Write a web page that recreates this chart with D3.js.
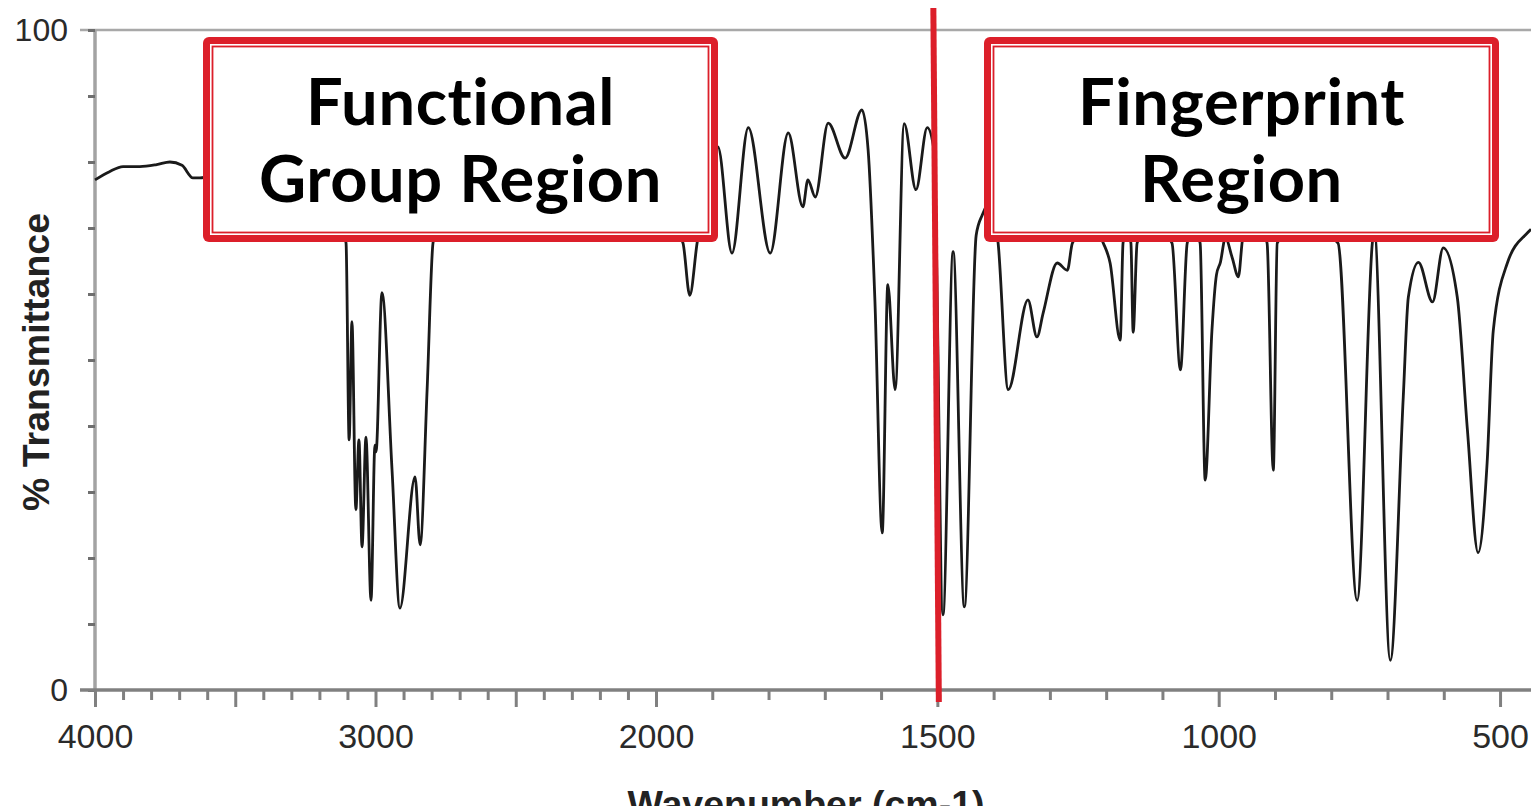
<!DOCTYPE html>
<html>
<head>
<meta charset="utf-8">
<script src="https://cdn.jsdelivr.net/npm/d3@7"></script>
<style>
  html, body { margin: 0; padding: 0; background: #fff; overflow: hidden; }
  svg { display: block; }
  .region-label { font-variant-ligatures: none; font-feature-settings: "liga" 0, "clig" 0; }
</style>
</head>
<body>
<svg id="chart" width="1531" height="806"></svg>
<script>
// IR spectrum: wavenumber (cm-1) and % transmittance, high to low wavenumber
const wavenumbers = [
  4000, 3950, 3900, 3840, 3780, 3733, 3690, 3651, 3626,
  3550, 3450, 3350, 3250, 3170, 3120,
  3105, 3094, 3084, 3070, 3059, 3048, 3034, 3016, 3002, 2998, 2977, 2941, 2913, 2859, 2841, 2816, 2795,
  2760, 2650, 2500, 2350, 2200, 2050, 1975,
  1952, 1940, 1927, 1910,
  1890, 1865, 1836, 1797, 1765, 1739, 1730, 1717, 1694, 1664, 1634, 1623, 1611, 1598, 1588, 1575,
  1559, 1538, 1518, 1506, 1490, 1472, 1452, 1431, 1420, 1406,
  1392, 1374, 1339, 1323, 1312, 1287, 1269, 1260, 1228,
  1205, 1193, 1175, 1170, 1163, 1156, 1152, 1145, 1122,
  1083, 1068, 1056, 1045, 1033, 1024, 1012, 1004, 997, 988, 976, 965, 957, 930,
  914, 903, 896, 855,
  788, 754, 727, 724, 695, 672, 663, 645, 620, 601, 576, 558, 539, 523, 512, 487, 452, 445
];
const transmittance = [
  77.3, 78.5, 79.3, 79.3, 79.6, 80.0, 79.5, 77.6, 77.6,
  78.2, 77.5, 76.8, 75.5, 73.0, 70.0,
  67.7, 37.9, 55.8, 27.3, 37.9, 21.7, 38.3, 13.6, 37.1, 36.1, 60.2, 33.3, 12.4, 32.3, 22.0, 45.5, 67.7,
  73.0, 76.0, 77.0, 78.0, 77.5, 76.0, 71.0,
  67.7, 59.8, 67.7, 76.0,
  82.3, 66.2, 85.2, 66.2, 84.4, 73.2, 77.3, 74.7, 85.9, 80.6, 87.9, 81.8, 59.1, 23.8, 61.4, 45.5,
  85.8, 75.8, 85.2, 81.8, 11.4, 66.4, 12.6, 68.9, 72.0, 74.0,
  67.7, 45.5, 59.1, 53.5, 57.1, 64.7, 63.6, 67.7, 70.5,
  67.7, 64.7, 53.0, 67.7, 70.0, 67.7, 54.2, 67.7, 71.0,
  67.7, 48.5, 67.7, 70.0, 67.7, 31.8, 54.5, 62.9, 64.8, 68.5, 65.5, 62.6, 68.5, 71.0,
  67.7, 33.3, 67.7, 71.0,
  67.7, 13.6, 67.7, 70.0, 4.5, 44.4, 59.5, 64.8, 58.8, 67.0, 59.5, 39.4, 20.8, 34.4, 54.5, 64.7, 69.2, 69.8
];

// Axis ticks and labels
const xTickValues = d3.range(4000, 499, -100);
const xMajorTicks = [4000, 3500, 3000, 2500, 2000, 1500, 1000, 500];
const xTickLabels = [4000, 3000, 2000, 1500, 1000, 500];
const yTickValues = d3.range(0, 101, 10);
const yTickLabels = [0, 100];

// Region annotations
const regionLines = [["Functional", "Group Region"], ["Fingerprint", "Region"]];
const dividerWavenumber = 1500;
const xTitle = "Wavenumber (cm-1)";
const yTitle = "% Transmittance";

// Layout
const W = 1531, H = 806;
const plot = { left: 95, right: 1531, top: 30, bottom: 690, xBreak: 656 };
const boxes = [
  { x: 203, y: 37, w: 515, h: 205 },
  { x: 984, y: 37, w: 515, h: 205 }
];
const RED = "#dc1f2a";
const FONT = "'Liberation Sans', Arial, Helvetica, sans-serif";

const svg = d3.select("#chart");

// Wavenumber axis changes scale at 2000 cm-1 (two linear segments)
const x = d3.scaleLinear()
  .domain([4000, 2000, 445])
  .range([plot.left, plot.xBreak, plot.right]);
const y = d3.scaleLinear().domain([0, 100]).range([plot.bottom, plot.top]);

// Frame lines
svg.append("line")
  .attr("x1", 80).attr("x2", W).attr("y1", y(100)).attr("y2", y(100))
  .attr("stroke", "#a8a8a8").attr("stroke-width", 2.5);
svg.append("line")
  .attr("x1", plot.left).attr("x2", plot.left).attr("y1", y(100)).attr("y2", y(0))
  .attr("stroke", "#a3a3a3").attr("stroke-width", 3.5);

// Y axis
const yAxis = d3.axisLeft(y)
  .tickValues(yTickValues)
  .tickSize(7)
  .tickPadding(20)
  .tickFormat(d => yTickLabels.includes(d) ? d : "");
const gy = svg.append("g").attr("transform", `translate(${plot.left},0)`).call(yAxis);
gy.select(".domain").remove();
gy.selectAll(".tick line").attr("stroke", "#6e6e6e").attr("stroke-width", 3);
gy.selectAll(".tick text")
  .attr("font-family", FONT).attr("font-size", 32).attr("fill", "#2a2a2a");

// Bottom axis line
svg.append("line")
  .attr("x1", 80).attr("x2", W).attr("y1", y(0)).attr("y2", y(0))
  .attr("stroke", "#808080").attr("stroke-width", 3.5);

// X axis
const xAxis = d3.axisBottom(x)
  .tickValues(xTickValues)
  .tickSize(10)
  .tickPadding(24)
  .tickFormat(d => xTickLabels.includes(d) ? d : "");
const gx = svg.append("g").attr("transform", `translate(0,${y(0)})`).call(xAxis);
gx.select(".domain").remove();
gx.selectAll(".tick line")
  .attr("stroke", "#808080").attr("stroke-width", 3)
  .attr("y2", d => xMajorTicks.includes(d) ? 17 : 10);
gx.selectAll(".tick text")
  .attr("font-family", FONT).attr("font-size", 34).attr("fill", "#2a2a2a");

// Axis titles
svg.append("text")
  .attr("x", 806).attr("y", 817)
  .attr("text-anchor", "middle")
  .attr("font-family", FONT).attr("font-size", 36).attr("font-weight", "bold")
  .attr("fill", "#222")
  .attr("textLength", 357).attr("lengthAdjust", "spacingAndGlyphs")
  .text(xTitle);
svg.append("text")
  .attr("transform", "translate(49,362) rotate(-90)")
  .attr("text-anchor", "middle")
  .attr("font-family", FONT).attr("font-size", 36).attr("font-weight", "bold")
  .attr("fill", "#222")
  .attr("textLength", 298).attr("lengthAdjust", "spacingAndGlyphs")
  .text(yTitle);

// Spectrum trace
const spectrum = wavenumbers.map((w, i) => ({ w, t: transmittance[i] }));
const line = d3.line()
  .x(d => x(d.w))
  .y(d => y(d.t))
  .curve(d3.curveMonotoneX);
svg.append("path")
  .datum(spectrum)
  .attr("d", line)
  .attr("fill", "none")
  .attr("stroke", "#1a1a1a")
  .attr("stroke-width", 2.8)
  .attr("stroke-linejoin", "round");

// Region boxes with a double red frame
boxes.forEach((b, i) => {
  const g = svg.append("g");
  g.append("rect")
    .attr("x", b.x).attr("y", b.y).attr("width", b.w).attr("height", b.h)
    .attr("rx", 6).attr("fill", RED);
  g.append("rect")
    .attr("x", b.x + 7).attr("y", b.y + 7).attr("width", b.w - 14).attr("height", b.h - 14)
    .attr("fill", "#fff");
  g.append("rect")
    .attr("x", b.x + 9.5).attr("y", b.y + 9.5).attr("width", b.w - 19).attr("height", b.h - 19)
    .attr("fill", "none").attr("stroke", RED).attr("stroke-width", 1.8);
  const cx = b.x + b.w / 2;
  regionLines[i].forEach((txt, j) => {
    g.append("text")
      .attr("class", "region-label")
      .attr("x", cx).attr("y", b.y + 88 + j * 77)
      .attr("text-anchor", "middle")
      .attr("font-family", "Lato, 'Open Sans', sans-serif")
      .attr("font-weight", "bold").attr("font-size", 65)
      .attr("letter-spacing", 0.6)
      .attr("fill", "#000")
      .text(txt);
  });
});

// Divider at 1500 cm-1
const xd = x(dividerWavenumber);
svg.append("line")
  .attr("x1", xd - 4).attr("y1", 8)
  .attr("x2", xd + 1.5).attr("y2", 702)
  .attr("stroke", RED).attr("stroke-width", 6);
</script>
</body>
</html>
